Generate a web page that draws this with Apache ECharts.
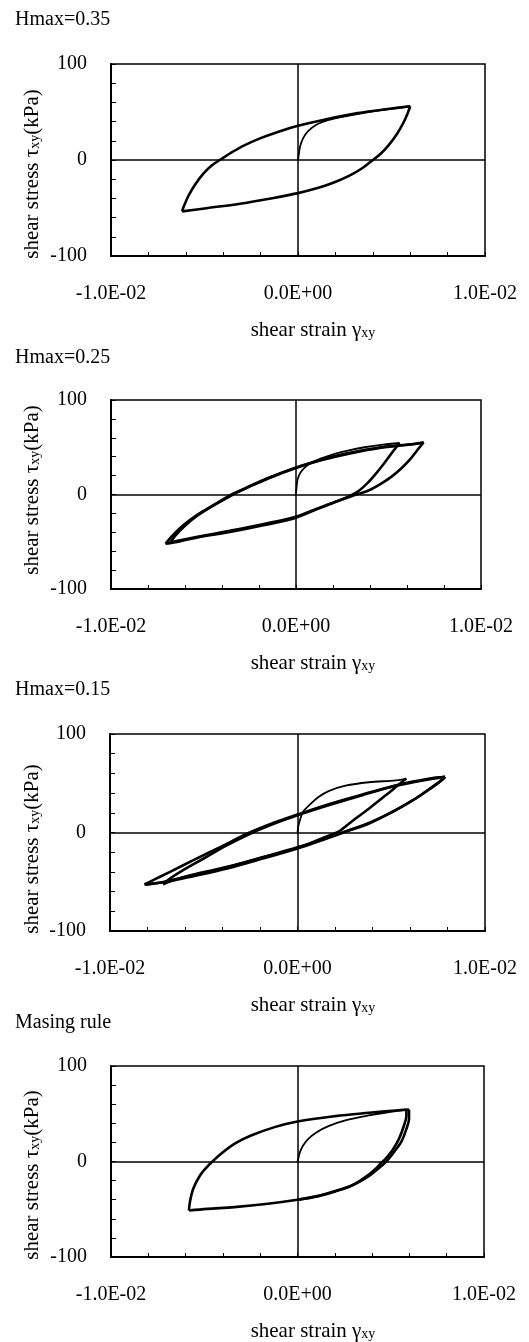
<!DOCTYPE html>
<html>
<head>
<meta charset="utf-8">
<script src="https://cdn.jsdelivr.net/npm/echarts@6/dist/echarts.min.js"></script>
<style>
html, body { margin: 0; padding: 0; background: #fff; }
#chart { width: 529px; height: 1342px; }
</style>
</head>
<body>
<div id="chart"></div>
<script>
// panel captions
const panelTitles = ['Hmax=0.35', 'Hmax=0.25', 'Hmax=0.15', 'Masing rule'];

// axes
const strainMin = -0.01, strainMax = 0.01, strainStep = 0.002;
const stressMin = -100, stressMax = 100, stressStep = 20;
const strainLabels = [-0.01, 0, 0.01];
const stressLabels = [-100, 0, 100];

// loop branches, [shear strain, shear stress kPa]
const h35Virgin = [[0,0],[0.00005,7],[0.00011,14],[0.00027,22.5],[0.00054,30],[0.001,37],[0.0016,41.5],[0.0025,45.5],[0.0041,51],[0.006,56]];
const h35Down = [[0.006,56],[0.00588,49.4],[0.00565,39.3],[0.0053,27.4],[0.00485,15.5],[0.00442,6.5],[0.00397,-0.5],[0.00345,-8.3],[0.00275,-16.3],[0.00185,-24],[0.0009,-30],[0,-34.5],[-0.0013,-39.5],[-0.0031,-45.5],[-0.0049,-50.2],[-0.0062,-53.5]];
const h35Up = [[-0.0062,-53.5],[-0.00608,-47],[-0.00585,-37],[-0.0055,-25.5],[-0.00505,-14],[-0.0046,-5.5],[-0.00414,0.5],[-0.0036,7.3],[-0.0029,15],[-0.002,22.8],[-0.001,29.8],[0,35.6],[0.0014,42],[0.0032,48.8],[0.005,53.6],[0.006,56]];

const h25Virgin = [[0,0],[0.00004,10],[0.0001,17],[0.00027,24],[0.00056,30],[0.00096,35],[0.0014,38.5],[0.0021,43],[0.0028,46.5],[0.0037,50],[0.0046,52.5],[0.0056,54.5]];
const h25Down1 = [[0.0056,54.5],[0.0053,47],[0.0049,36.5],[0.0044,24],[0.00386,12],[0.0034,4],[0.0029,-1.5],[0.0021,-8],[0.001,-16],[0,-23.5],[-0.0018,-31.5],[-0.0036,-38.5],[-0.0054,-45],[-0.0064,-49],[-0.0068,-51]];
const h25Up1 = [[-0.0068,-51],[-0.0065,-43],[-0.006,-33],[-0.0053,-22],[-0.0044,-11],[-0.0034,0],[-0.0026,7.5],[-0.0015,17],[0,28],[0.0013,36],[0.0028,43],[0.0046,49.5],[0.0064,53.5],[0.0069,55]];
const h25Down2 = [[0.0069,55],[0.0066,48],[0.0062,38],[0.00567,27.3],[0.00513,18.4],[0.00458,11.2],[0.00404,5.3],[0.0035,1.3],[0.00304,-1.5],[0.00205,-8.5],[0.00096,-17],[0,-24.5],[-0.00176,-32.6],[-0.00357,-39.7],[-0.00538,-45.7],[-0.00629,-49.6],[-0.00705,-52]];
const h25Up2 = [[-0.00705,-52],[-0.00665,-43],[-0.0061,-32.6],[-0.00538,-22],[-0.00447,-11.3],[-0.00348,0],[-0.00266,7.4],[-0.00158,17],[0,28.7],[0.00132,36.5],[0.00277,43.6],[0.00458,50],[0.0064,53.5],[0.0069,55]];

const h15Virgin = [[0,0],[0.00004,6],[0.00013,12.5],[0.0003,21],[0.00067,28.5],[0.00112,36],[0.00166,42],[0.00256,47.5],[0.0038,51],[0.00526,53],[0.0058,54.8]];
const h15Down1 = [[0.0058,54.8],[0.00526,46.4],[0.00472,38],[0.00382,24.4],[0.0031,14.2],[0.00238,3.4],[0.0021,0],[0.0013,-6],[0,-15.6],[-0.00195,-25.7],[-0.00375,-34.9],[-0.00555,-42.6],[-0.00663,-48.4],[-0.00717,-52.5]];
const h15Up1 = [[-0.00717,-52.5],[-0.0068,-46.7],[-0.0061,-38.2],[-0.005,-26.4],[-0.00375,-12.9],[-0.0025,-1],[-0.00123,9.1],[0,17.6],[0.00166,27.7],[0.00346,37.9],[0.00526,47.4],[0.00706,54.1],[0.00787,56.5]];
const h15Down2 = [[0.00787,56.5],[0.0076,52.1],[0.00706,44.7],[0.00616,32.8],[0.00508,21],[0.00382,9.1],[0.00256,0.7],[0.0013,-7.8],[0,-16.2],[-0.00195,-27],[-0.00375,-36.5],[-0.00555,-44.3],[-0.007,-50],[-0.00816,-52.8]];
const h15Up2 = [[-0.00816,-52.8],[-0.0077,-48.4],[-0.0068,-39.9],[-0.00555,-28.1],[-0.0041,-14.6],[-0.00267,-1],[-0.00123,10.2],[0,18.3],[0.00166,28.8],[0.00346,38.6],[0.00526,48],[0.00706,54.8],[0.00787,56.5]];
const h15Down3 = [[0.00787,56.5],[0.0077,53],[0.0072,46],[0.0063,34.5],[0.0052,22.5],[0.0039,10.5],[0.0027,2],[0.0014,-6.8],[0,-15],[-0.002,-25.8],[-0.0038,-35.5],[-0.0056,-43.5],[-0.0071,-50],[-0.0081,-53]];

const masVirgin = [[0,0],[0.00004,2.8],[0.00013,9.8],[0.0003,16.8],[0.00058,23.7],[0.00103,30.7],[0.00166,37],[0.00256,43],[0.0038,48.2],[0.0049,51.7],[0.00584,54.5]];
const masDown1 = [[0.00584,54.5],[0.00584,48.2],[0.00571,37.7],[0.00544,23.7],[0.00508,11.5],[0.00472,2.8],[0.0045,-1.2],[0.00418,-7.7],[0.00364,-16.4],[0.00292,-25.1],[0.00202,-31.4],[0.00112,-36.3],[0,-40.1],[-0.00159,-44.3],[-0.00339,-47.8],[-0.00483,-49.6],[-0.00582,-51.3]];
const masUp1 = [[-0.00582,-51.3],[-0.00577,-42.6],[-0.00559,-28.6],[-0.00523,-14.7],[-0.00486,-5.9],[-0.00456,0],[-0.0041,8],[-0.00339,18.5],[-0.00249,27.2],[-0.00123,36],[0,41.9],[0.00202,47.5],[0.00382,51],[0.00526,53.4],[0.00598,54.5]];
const masDown2 = [[0.00598,54.5],[0.00598,51.7],[0.00598,44.7],[0.00584,34.2],[0.00557,20.9],[0.00517,9.8],[0.00481,1],[0.00436,-7],[0.00382,-15.4],[0.0031,-23.4],[0.00202,-31],[0.00112,-36],[0,-40]];

const panelBranches = [
	[h35Virgin, h35Down, h35Up],
	[h25Virgin, h25Down1, h25Up1, h25Down2, h25Up2],
	[h15Virgin, h15Down1, h15Up1, h15Down2, h15Up2, h15Down3],
	[masVirgin, masDown1, masUp1, masDown2]
];

const FONT = '"Liberation Serif", "Times New Roman", serif';

// plot boxes, px
const boxes = [
	{ left: 111, top: 64, width: 374, height: 192 },
	{ left: 111, top: 400, width: 370, height: 189 },
	{ left: 110, top: 734, width: 375, height: 197 },
	{ left: 111, top: 1066, width: 373, height: 191 }
];
const titleY = [20, 358, 690, 1023];
const yNameY = [174, 490, 849, 1175];

function near(v, list) {
	return list.some((t) => Math.abs(v - t) < 1e-9);
}

function sciLabel(v) {
	if (!near(v, strainLabels)) return '';
	if (Math.abs(v) < 1e-12) return '0.0E+00';
	const parts = v.toExponential(1).split('e');
	const exp = parseInt(parts[1], 10);
	const e = (exp < 0 ? '-' : '+') + String(Math.abs(exp)).padStart(2, '0');
	return parts[0] + 'E' + e;
}

const grid = [], xAxis = [], yAxis = [], series = [], graphic = [];

boxes.forEach((b, p) => {
	grid.push({
		left: b.left, top: b.top, width: b.width, height: b.height,
		show: true, borderColor: '#000', borderWidth: 1.5, backgroundColor: 'transparent'
	});

	xAxis.push({
		gridIndex: p, type: 'value',
		min: strainMin, max: strainMax, interval: strainStep,
		axisLine: { show: true, onZero: false, lineStyle: { color: '#000', width: 2 } },
		axisTick: { show: true, inside: true, length: 4, lineStyle: { color: '#000', width: 1 } },
		axisLabel: {
			formatter: sciLabel, margin: 28, color: '#000',
			fontFamily: FONT, fontSize: 20, showMinLabel: true, showMaxLabel: true, hideOverlap: false
		},
		splitLine: { show: false }
	});

	yAxis.push({
		gridIndex: p, type: 'value',
		min: stressMin, max: stressMax, interval: stressStep,
		axisLine: { show: true, onZero: false, lineStyle: { color: '#000', width: 2 } },
		axisTick: { show: true, inside: true, length: 5, lineStyle: { color: '#000', width: 1 } },
		axisLabel: {
			formatter: (v) => (near(v, stressLabels) ? String(v) : ''),
			margin: 24, color: '#000', fontFamily: FONT, fontSize: 20,
			showMinLabel: true, showMaxLabel: true
		},
		splitLine: { show: false }
	});

	panelBranches[p].forEach((data, i) => {
		const s = {
			type: 'line', xAxisIndex: p, yAxisIndex: p,
			data: data, smooth: 0.35, symbol: 'none', silent: true,
			lineStyle: { color: '#000', width: i === 0 ? 1.8 : 2.6 },
			z: 3
		};
		if (i === 0) {
			// zero cross lines
			s.markLine = {
				silent: true, symbol: ['none', 'none'], animation: false,
				label: { show: false },
				lineStyle: { color: '#000', width: 1.5, type: 'solid' },
				data: [{ xAxis: 0 }, { yAxis: 0 }]
			};
		}
		series.push(s);
	});

	graphic.push({
		type: 'text', x: 15, y: titleY[p],
		style: {
			text: panelTitles[p], fill: '#000', font: '20px ' + FONT,
			align: 'left', verticalAlign: 'middle', textAlign: 'left', textVerticalAlign: 'middle'
		}
	});

	graphic.push({
		type: 'text', x: 313, y: b.top + b.height + 74,
		style: {
			text: 'shear strain γ{sub|xy}', fill: '#000', font: '21px ' + FONT,
			align: 'center', verticalAlign: 'middle', textAlign: 'center', textVerticalAlign: 'middle',
			rich: { sub: { fontSize: 14, fontFamily: FONT, lineHeight: 10, verticalAlign: 'bottom' } }
		}
	});

	graphic.push({
		type: 'text', x: 32, y: yNameY[p], rotation: Math.PI / 2,
		style: {
			text: 'shear stress τ{sub|xy}(kPa)', fill: '#000', font: '21px ' + FONT,
			align: 'center', verticalAlign: 'middle', textAlign: 'center', textVerticalAlign: 'middle',
			rich: { sub: { fontSize: 14, fontFamily: FONT, lineHeight: 10, verticalAlign: 'bottom' } }
		}
	});
});

const chart = echarts.init(document.getElementById('chart'), null, { renderer: 'canvas' });
chart.setOption({
	backgroundColor: '#fff',
	animation: false,
	grid: grid,
	xAxis: xAxis,
	yAxis: yAxis,
	series: series,
	graphic: graphic
});
</script>
</body>
</html>
